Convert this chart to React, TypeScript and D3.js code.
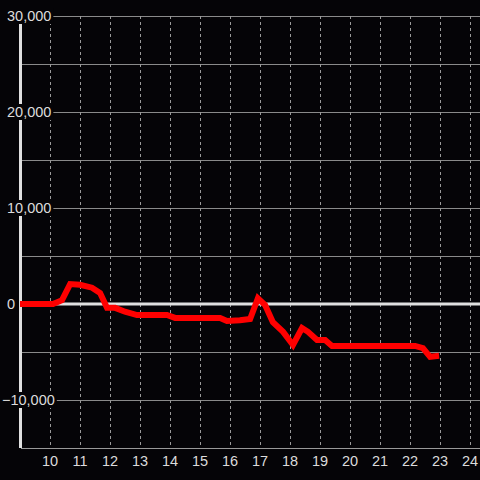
import React, { useEffect, useRef } from 'react'
import * as d3 from 'd3'

// hours of day and values
const hours = [9, 10.1, 10.4, 10.67, 11, 11.4, 11.67, 11.9, 12.17, 12.5, 12.9, 13.9, 14.17, 15.67, 15.9, 16.33, 16.67, 16.93, 17.17, 17.43, 17.77, 18.1, 18.4, 18.6, 18.9, 19.17, 19.4, 22.17, 22.43, 22.67, 22.97]
const values = [0, 0, 400, 2080, 2000, 1700, 1150, -400, -400, -800, -1150, -1150, -1450, -1450, -1770, -1700, -1560, 600, -100, -1900, -2900, -4270, -2500, -2900, -3750, -3750, -4370, -4370, -4600, -5500, -5400]
const xTicks = [10, 11, 12, 13, 14, 15, 16, 17, 18, 19, 20, 21, 22, 23, 24]
const yGrid = [-10000, -5000, 5000, 10000, 15000, 20000, 25000, 30000]
const yLabels = [30000, 20000, 10000, 0, -10000]

const W = 480
const H = 480

export default function App() {
  const ref = useRef<SVGSVGElement | null>(null)

  useEffect(() => {
    if (!ref.current) return
    const svg = d3.select(ref.current)
    svg.selectAll('*').remove()

    const x = d3.scaleLinear().domain([9, 24.333]).range([20, 480])
    const y = d3.scaleLinear().domain([-15000, 30000]).range([448, 16])

    svg.append('rect').attr('width', W).attr('height', H).attr('fill', '#050407')

    // horizontal grid
    svg.append('g')
      .selectAll('line')
      .data(yGrid)
      .enter().append('line')
      .attr('x1', 21).attr('x2', W)
      .attr('y1', d => Math.round(y(d)) + 0.5)
      .attr('y2', d => Math.round(y(d)) + 0.5)
      .attr('stroke', '#8a8a8a')
      .attr('stroke-width', 1)

    // vertical dashed grid
    svg.append('g')
      .selectAll('line')
      .data(xTicks)
      .enter().append('line')
      .attr('x1', d => Math.round(x(d)) + 0.5)
      .attr('x2', d => Math.round(x(d)) + 0.5)
      .attr('y1', y(30000)).attr('y2', y(-15000) - 2)
      .attr('stroke', '#9a9a9a')
      .attr('stroke-width', 1)
      .attr('stroke-dasharray', '3,3')

    // bottom axis
    svg.append('line')
      .attr('x1', 21).attr('x2', W)
      .attr('y1', y(-15000) + 0.5).attr('y2', y(-15000) + 0.5)
      .attr('stroke', '#999').attr('stroke-width', 1)

    // zero line
    svg.append('line')
      .attr('x1', 21).attr('x2', W)
      .attr('y1', y(0)).attr('y2', y(0))
      .attr('stroke', '#e0e0e0').attr('stroke-width', 3)

    // left axis
    svg.append('line')
      .attr('x1', 20.5).attr('x2', 20.5)
      .attr('y1', y(30000)).attr('y2', y(-15000))
      .attr('stroke', '#e0e0e0').attr('stroke-width', 3)

    // series
    const line = d3.line<number>()
      .x((_, i) => x(hours[i]))
      .y(d => y(d))
    svg.append('path')
      .datum(values)
      .attr('d', line)
      .attr('fill', 'none')
      .attr('stroke', '#ff0000')
      .attr('stroke-width', 6)
      .attr('stroke-linejoin', 'miter')

    // y labels with background
    const fmt = d3.format(',')
    const yl = svg.append('g')
      .selectAll('g')
      .data(yLabels)
      .enter().append('g')
    yl.each(function (d) {
      const g = d3.select(this)
      const t = g.append('text')
        .attr('x', d < 0 ? 2 : 7)
        .attr('y', y(d))
        .attr('dy', '0.35em')
        .attr('fill', '#dcdcdc')
        .style('font-family', '"Liberation Sans", Arial, sans-serif')
        .style('font-size', '14.5px')
        .text(fmt(d))
      const bb = (t.node() as SVGTextElement).getBBox()
      g.insert('rect', 'text')
        .attr('x', bb.x - 1)
        .attr('y', y(d) - 8)
        .attr('width', bb.width + 3)
        .attr('height', 16)
        .attr('fill', '#050407')
    })

    // x labels
    svg.append('g')
      .selectAll('text')
      .data(xTicks)
      .enter().append('text')
      .attr('x', d => x(d))
      .attr('y', 466)
      .attr('text-anchor', 'middle')
      .attr('fill', '#dcdcdc')
      .style('font-family', '"Liberation Sans", Arial, sans-serif')
      .style('font-size', '14.5px')
      .text(d => d)
  }, [])

  return (
    <div style={{ position: 'fixed', left: 0, top: 0 }}>
      <svg ref={ref} width={W} height={H} style={{ display: 'block' }} />
    </div>
  )
}
